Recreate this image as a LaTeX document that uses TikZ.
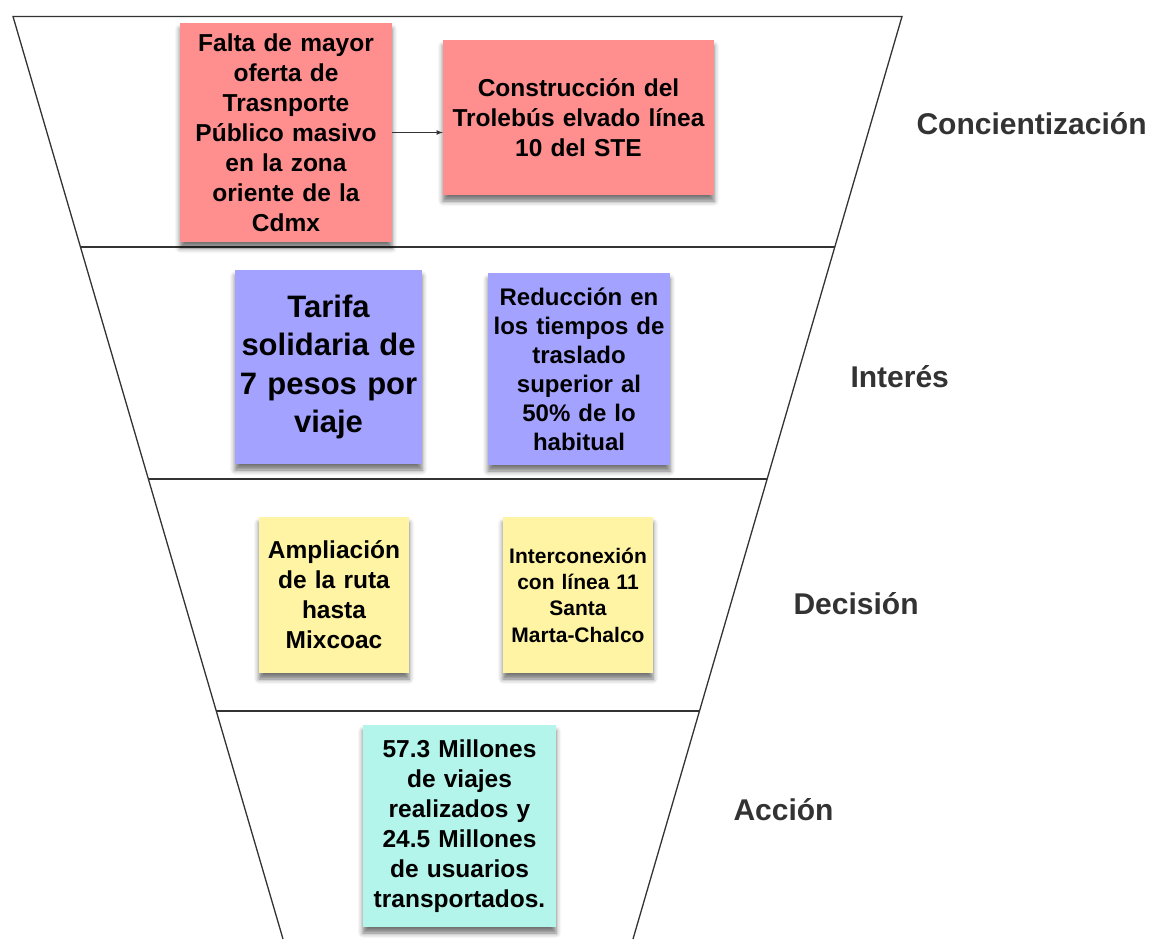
\documentclass[tikz,border=0pt]{standalone}
\usepackage{fontspec}
\setmainfont{Liberation Sans}
\usepackage{xcolor}
\usetikzlibrary{arrows,positioning,shadows.blur}

\definecolor{notared}{HTML}{FF8F8F}
\definecolor{notablue}{HTML}{A3A3FF}
\definecolor{notayellow}{HTML}{FFF4A3}
\definecolor{notateal}{HTML}{B3F5EA}
\definecolor{lineagris}{HTML}{333333}

\tikzset{
  nota/.style={rectangle, inner sep=2pt, align=center, text=black,
    font=\bfseries\fontsize{24.5}{30}\selectfont,
    blur shadow={shadow xshift=0pt, shadow yshift=-6pt,
      shadow blur radius=5pt, shadow opacity=55}},
  etapa/.style={anchor=base west, text=lineagris, font=\bfseries\fontsize{30}{36}\selectfont},
  embudo/.style={draw=lineagris, line width=1.3pt},
  flecha/.style={draw=lineagris, line width=1.1pt, -latex}
}

\begin{document}
\begin{tikzpicture}[x=1pt,y=-1pt]
\useasboundingbox (0,0) rectangle (1153,939);

% embudo
\draw[embudo] (283,939) -- (13,16.5) -- (902,16.5) -- (633,939);
\draw[embudo] (80.6,247) -- (834.9,247);
\draw[embudo] (148.4,479) -- (767.2,479);
\draw[embudo] (216.3,711) -- (699.5,711);

% Concientizacion
\node[nota, fill=notared, minimum width=212pt, minimum height=219pt, text width=205pt] (falta) at (286,132.5)
  {Falta de mayor\\oferta de\\Trasnporte\\P\'ublico masivo\\en la zona\\oriente de la\\Cdmx};
\node[nota, fill=notared, minimum width=271pt, minimum height=155pt, text width=265pt] (trolebus) at (578.5,117.5)
  {Construcci\'on del\\Trolebús elvado línea\\10 del STE};
\draw[flecha] (falta.east) -- (falta.east -| trolebus.west);

% Interes
\node[nota, fill=notablue, minimum width=187pt, minimum height=194pt, text width=180pt,
  font=\bfseries\fontsize{31}{38.5}\selectfont] (tarifa) at (328.5,367)
  {Tarifa\\solidaria de\\7 pesos por\\viaje};
\node[nota, fill=notablue, minimum width=182pt, minimum height=192pt, text width=176pt,
  font=\bfseries\fontsize{24}{29}\selectfont] (reduccion) at (579,369)
  {Reducci\'on en\\los tiempos de\\traslado\\superior al\\50\% de lo\\habitual};

% Decision
\node[nota, fill=notayellow, minimum width=150pt, minimum height=156pt, text width=144pt] (ampliacion) at (334,595)
  {Ampliaci\'on\\de la ruta\\hasta\\Mixcoac};
\node[nota, fill=notayellow, minimum width=150pt, minimum height=156pt, text width=146pt,
  font=\bfseries\fontsize{21}{26.3}\selectfont] (interconexion) at (578,595)
  {Interconexi\'on\\con línea 11\\Santa\\Marta-Chalco};

% Accion
\node[nota, fill=notateal, minimum width=193pt, minimum height=202pt, text width=187pt] (viajes) at (459.5,826)
  {57.3 Millones\\de viajes\\realizados y\\24.5 Millones\\de usuarios\\transportados.};

% etapas
\node[etapa] (concientizacion) at (913,135) {Concientizaci\'on};
\node[etapa] (interes) at (847,387) {Inter\'es};
\node[etapa] (decision) at (790,614) {Decisi\'on};
\node[etapa] (accion) at (730,820) {Acci\'on};
\end{tikzpicture}
\end{document}
